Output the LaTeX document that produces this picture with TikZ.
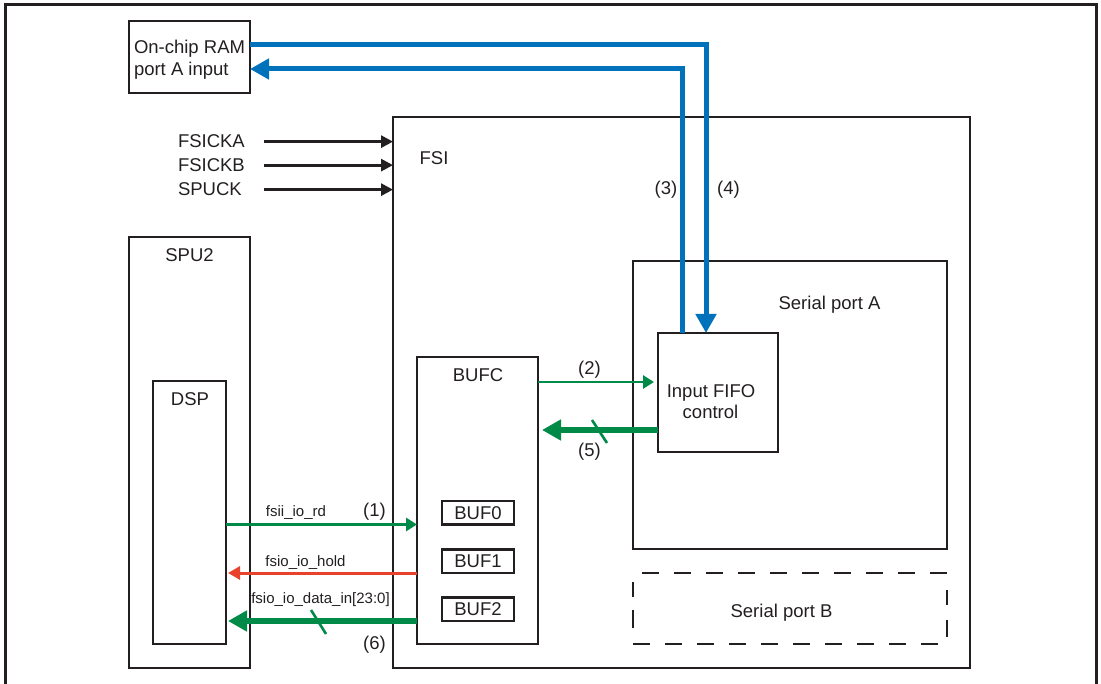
\documentclass[tikz,border=0pt]{standalone}
\usepackage{fontspec}
\setmainfont{Liberation Sans}
\usetikzlibrary{arrows.meta,calc}
\definecolor{fblack}{RGB}{35,31,32}
\definecolor{fblue}{RGB}{0,114,188}
\definecolor{fgreen}{RGB}{0,138,72}
\definecolor{fred}{RGB}{233,66,44}
\begin{document}
\begin{tikzpicture}[x=1pt,y=-1pt,
  boxst/.style={draw=fblack, line width=2.8pt, inner sep=0pt, outer sep=0pt, anchor=north west,
                font=\fontsize{18.5}{22}\selectfont, text=fblack},
  txt/.style={font=\fontsize{18.5}{22}\selectfont, inner sep=0pt, outer sep=0pt, anchor=base, text=fblack},
  sigt/.style={txt, font=\fontsize{15}{18}\selectfont},
  dashln/.style={draw=fblack, line width=2.8pt},
  clkarr/.style={draw=fblack, line width=2.8pt, -{Triangle[length=12pt,width=12pt]}},
  bluearr/.style={draw=fblue, line width=5pt, -{Triangle[length=19pt,width=20pt]}},
  gthin/.style={draw=fgreen, line width=2.8pt, -{Triangle[length=11pt,width=13pt]}},
  gthick/.style={draw=fgreen, line width=5.2pt, -{Triangle[length=19pt,width=20pt]}},
  redarr/.style={draw=fred, line width=3pt, -{Triangle[length=12pt,width=13pt]}},
  slashln/.style={draw=fgreen, line width=2.6pt}
]
\useasboundingbox (0,0) rectangle (1101,684);
% outer frame (bottom edge lies outside the picture)
\draw[draw=fblack, line width=3pt] (5,700) -- (5,5) -- (1096,5) -- (1096,700);

% boxes
\node[boxst, minimum width=121pt, minimum height=72pt] (ram) at (129,21) {};
\node[boxst, minimum width=577pt, minimum height=551pt] (fsi) at (393,117) {};
\node[boxst, minimum width=121pt, minimum height=431pt] (spu) at (129,237) {};
\node[boxst, minimum width=73pt, minimum height=263pt] (dsp) at (153,381) {};
\node[boxst, minimum width=121pt, minimum height=287pt] (bufc) at (417,357) {};
\node[boxst, minimum width=314pt, minimum height=288pt] (spa) at (633,261) {};
\node[boxst, minimum width=120pt, minimum height=119pt] (fifo) at (658,333) {};
\node[boxst, minimum width=72pt, minimum height=23.5pt] (buf0) at (442,501) {BUF0};
\node[boxst, minimum width=72pt, minimum height=23.5pt] (buf1) at (442,549.5) {BUF1};
\node[boxst, minimum width=72pt, minimum height=23.5pt] (buf2) at (442,597.5) {BUF2};
\node[inner sep=0pt, outer sep=0pt, anchor=north west, minimum width=314pt, minimum height=71pt] (spb) at (633,573) {};
\draw[dashln, dash pattern=on 17pt off 15pt] (spb.north east) -- (spb.north west);
\draw[dashln, dash pattern=on 17pt off 15pt] (spb.south west) -- (spb.south east);
\draw[dashln, dash pattern=on 0pt off 9pt on 15pt off 13pt on 18pt off 40pt] (spb.north west) -- (spb.south west);
\draw[dashln, dash pattern=on 0pt off 17pt on 15pt off 15pt on 17pt off 40pt] (spb.north east) -- (spb.south east);

% texts
\node[txt, anchor=base west] (ramt1) at (134,54) {On-chip RAM};
\node[txt, anchor=base west] (ramt2) at (134,76) {port A input};
\node[txt] (fsit) at (434,165) {FSI};
\node[txt, anchor=base west] (cka) at (178,148) {FSICKA};
\node[txt, anchor=base west] (ckb) at (178,171.5) {FSICKB};
\node[txt, anchor=base west] (spuck) at (178,196) {SPUCK};
\node[txt] (l3) at (666,194.5) {(3)};
\node[txt] (l4) at (728.5,194.5) {(4)};
\node[txt] (spat) at (829.5,309.5) {Serial port A};
\node[txt] (fifot1) at (711,397.5) {Input FIFO};
\node[txt] (fifot2) at (710.5,419) {control};
\node[txt] (bufct) at (478,381.5) {BUFC};
\node[txt] (l2) at (589.5,375) {(2)};
\node[txt] (l5) at (589.5,456.5) {(5)};
\node[txt] (sput) at (189.5,261.5) {SPU2};
\node[txt] (dspt) at (190,406) {DSP};
\node[sigt] (rdt) at (296,517) {fsii\_io\_rd};
\node[txt] (l1) at (374.5,517) {(1)};
\node[sigt] (holdt) at (305.5,566.5) {fsio\_io\_hold};
\node[sigt] (datat) at (320.5,603.5) {fsio\_io\_data\_in[23:0]};
\node[txt] (l6) at (374.5,649) {(6)};
\node[txt] (spbt) at (781.5,617) {Serial port B};

% clock inputs
\coordinate (ckx) at (264,0);
\draw[clkarr] (cka.east -| ckx) -- (cka.east -| fsi.west);
\draw[clkarr] (ckb.east -| ckx) -- (ckb.east -| fsi.west);
\draw[clkarr] (spuck.east -| ckx) -- (spuck.east -| fsi.west);

% RAM <-> Input FIFO control
\draw[bluearr] ([yshift=12pt]ram.east) -| ([xshift=-12pt]fifo.north);
\draw[bluearr] ([xshift=-36pt]fifo.north) |- ([yshift=-12pt]ram.east);

% BUFC <-> Input FIFO control
\coordinate (a2) at ([yshift=-25pt]bufc.north east);
\draw[gthin, shorten >=4pt] (a2) -- (a2 -| fifo.west);
\coordinate (a5) at ([yshift=-97pt]fifo.north west);
\draw[gthick, shorten >=4pt] (a5) -- (a5 -| bufc.east);
\coordinate (s5) at (599.5,431.5);
\draw[slashln] ([shift={(-7.5,-11.5)}]s5) -- ([shift={(7.5,11.5)}]s5);

% DSP <-> BUFC
\draw[gthin] (buf0.south -| dsp.east) -- (buf0.south -| bufc.west);
\draw[redarr, shorten >=2pt] (buf1.south -| bufc.west) -- (buf1.south -| dsp.east);
\draw[gthick, shorten >=2pt] (buf2.south -| bufc.west) -- (buf2.south -| dsp.east);
\coordinate (s6) at (318.5,622);
\draw[slashln] ([shift={(-7.5,-12)}]s6) -- ([shift={(7.5,12)}]s6);
\end{tikzpicture}
\end{document}
